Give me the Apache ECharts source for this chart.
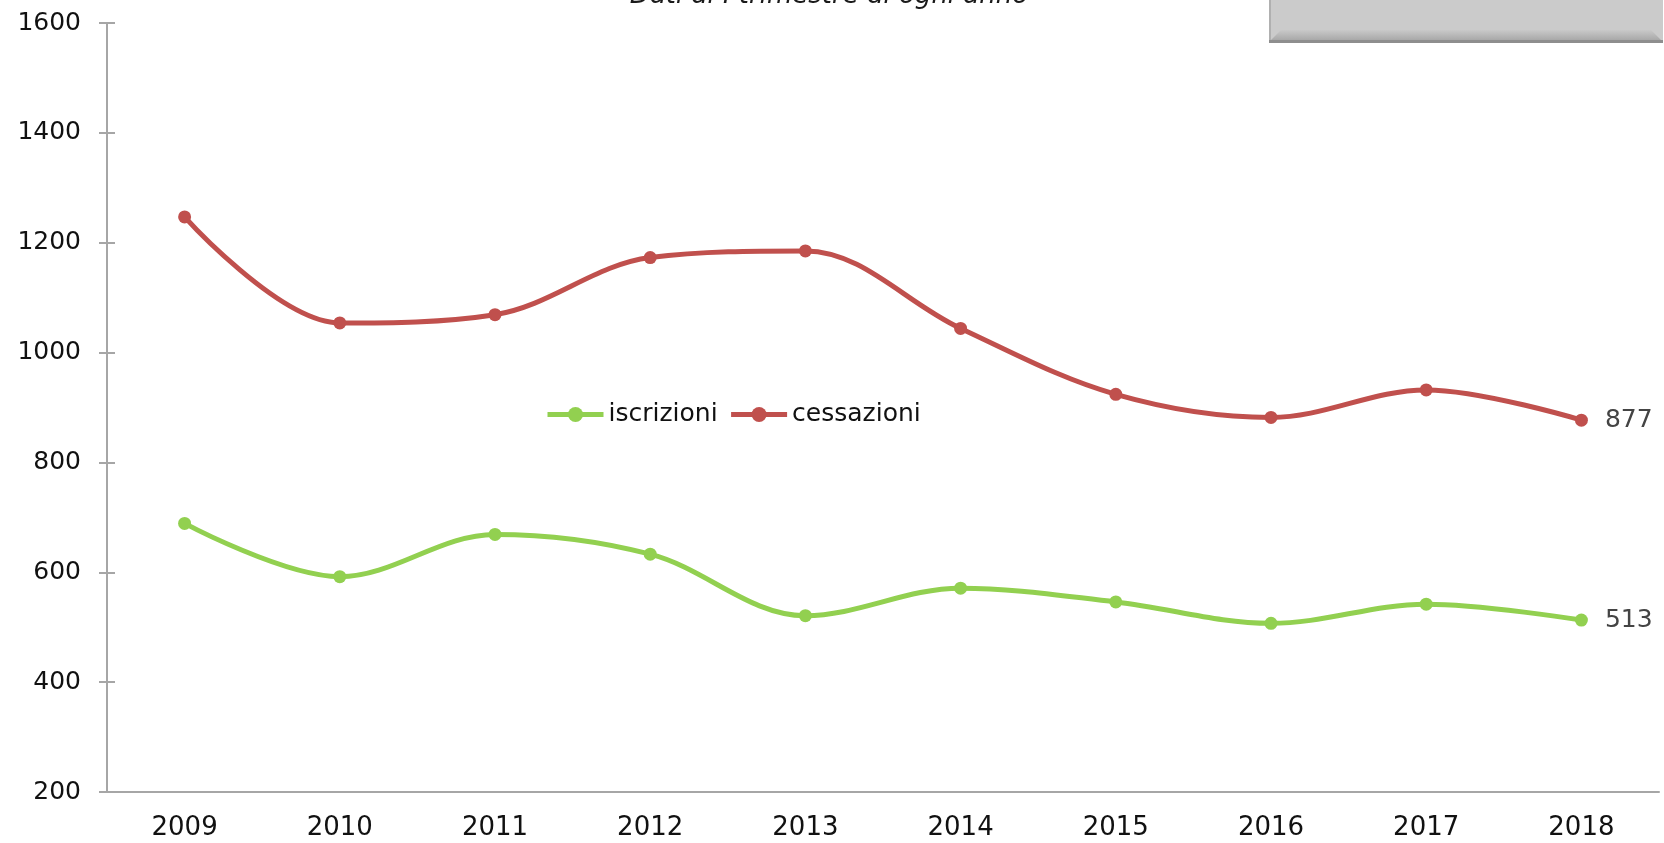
<!DOCTYPE html>
<html>
<head>
<meta charset="utf-8">
<script src="https://cdn.jsdelivr.net/npm/echarts@6/dist/echarts.min.js"></script>
<style>
  html, body { margin: 0; padding: 0; background: #fff; }
  #main { width: 1664px; height: 843px; }
</style>
</head>
<body>
<div id="main"></div>
<script>
// dati
var anni = ['2009', '2010', '2011', '2012', '2013', '2014', '2015', '2016', '2017', '2018'];
var iscrizioni = [689, 592, 669, 633, 521, 571, 546, 507, 542, 513];
var cessazioni = [1247, 1054, 1069, 1173, 1185, 1044, 924, 882, 932, 877];
var titolo = 'Dati al I trimestre di ogni anno';

var myChart = echarts.init(document.getElementById('main'));

var font = 'DejaVu Sans';
var grigio = '#a6a6a6';

// etichetta solo sull'ultimo punto
function ultimo(p) {
    return p.dataIndex === anni.length - 1 ? p.value : '';
}

myChart.setOption({
    backgroundColor: '#fff',
    animation: false,
    graphic: [
        {   // riquadro grigio in alto a destra
            type: 'rect',
            shape: { x: 1269, y: -20, width: 394, height: 62 },
            style: { fill: '#cbcbcb' }
        },
        {
            type: 'polygon',
            shape: { points: [[1269, 42], [1663, 42], [1651, 30], [1281, 30]] },
            style: {
                fill: new echarts.graphic.LinearGradient(0, 0, 0, 1, [
                    { offset: 0, color: '#c9c9c9' },
                    { offset: 1, color: '#a2a2a2' }
                ])
            }
        },
        {
            type: 'rect',
            shape: { x: 1269, y: -20, width: 2, height: 62 },
            style: { fill: '#b0b0b0' }
        },
        {
            type: 'rect',
            shape: { x: 1269, y: 40, width: 394, height: 3 },
            style: { fill: '#8e8e8e' }
        },
        {
            type: 'text',
            x: 829,
            y: -4,
            style: {
                text: titolo,
                font: 'italic 26px "DejaVu Sans"',
                fill: '#1a1a1a',
                align: 'center',
                verticalAlign: 'middle'
            }
        }
    ],
    legend: {
        left: 540,
        top: 397,
        itemWidth: 56,
        itemHeight: 19,
        itemGap: 11,
        lineStyle: { width: 5 },
        textStyle: { fontFamily: font, fontSize: 25, color: '#111' },
        data: ['iscrizioni', 'cessazioni']
    },
    grid: {
        left: 107,
        right: 5,
        top: 23,
        bottom: 51
    },
    xAxis: [{
        type: 'category',
        data: anni,
        boundaryGap: true,
        axisLine: { lineStyle: { color: grigio, width: 2 } },
        axisTick: { length: 9, lineStyle: { color: grigio, width: 2 } },
        axisLabel: { fontFamily: font, fontSize: 26, color: '#111', margin: 23 },
        splitLine: { show: false }
    }, {
        type: 'category',
        data: anni,
        position: 'bottom',
        boundaryGap: true,
        axisLine: { show: false },
        axisTick: { inside: true, length: 4, lineStyle: { color: grigio, width: 2 } },
        axisLabel: { show: false }
    }],
    yAxis: [{
        type: 'value',
        min: 200,
        max: 1600,
        interval: 200,
        axisLine: { show: true, lineStyle: { color: grigio, width: 2 } },
        axisTick: { show: true, length: 8, lineStyle: { color: grigio, width: 2 } },
        axisLabel: {
            fontFamily: font, fontSize: 25, color: '#111', margin: 26,
            formatter: function (v) { return String(v); }
        },
        splitLine: { show: false }
    }, {
        type: 'value',
        min: 200,
        max: 1600,
        interval: 200,
        position: 'left',
        axisLine: { show: false },
        axisTick: { show: true, inside: true, length: 8, lineStyle: { color: grigio, width: 2 } },
        axisLabel: { show: false },
        splitLine: { show: false }
    }],
    series: [{
        name: 'iscrizioni',
        type: 'line',
        smooth: 0.35,
        data: iscrizioni,
        symbol: 'circle',
        symbolSize: 13,
        color: '#92d050',
        lineStyle: { width: 5 },
        label: {
            show: true,
            position: 'right',
            distance: 17,
            formatter: ultimo,
            fontFamily: font,
            fontSize: 25,
            color: '#444'
        }
    }, {
        name: 'cessazioni',
        type: 'line',
        smooth: 0.35,
        data: cessazioni,
        symbol: 'circle',
        symbolSize: 13,
        color: '#c0504d',
        lineStyle: { width: 5 },
        label: {
            show: true,
            position: 'right',
            distance: 17,
            formatter: ultimo,
            fontFamily: font,
            fontSize: 25,
            color: '#444'
        }
    }]
});
</script>
</body>
</html>
